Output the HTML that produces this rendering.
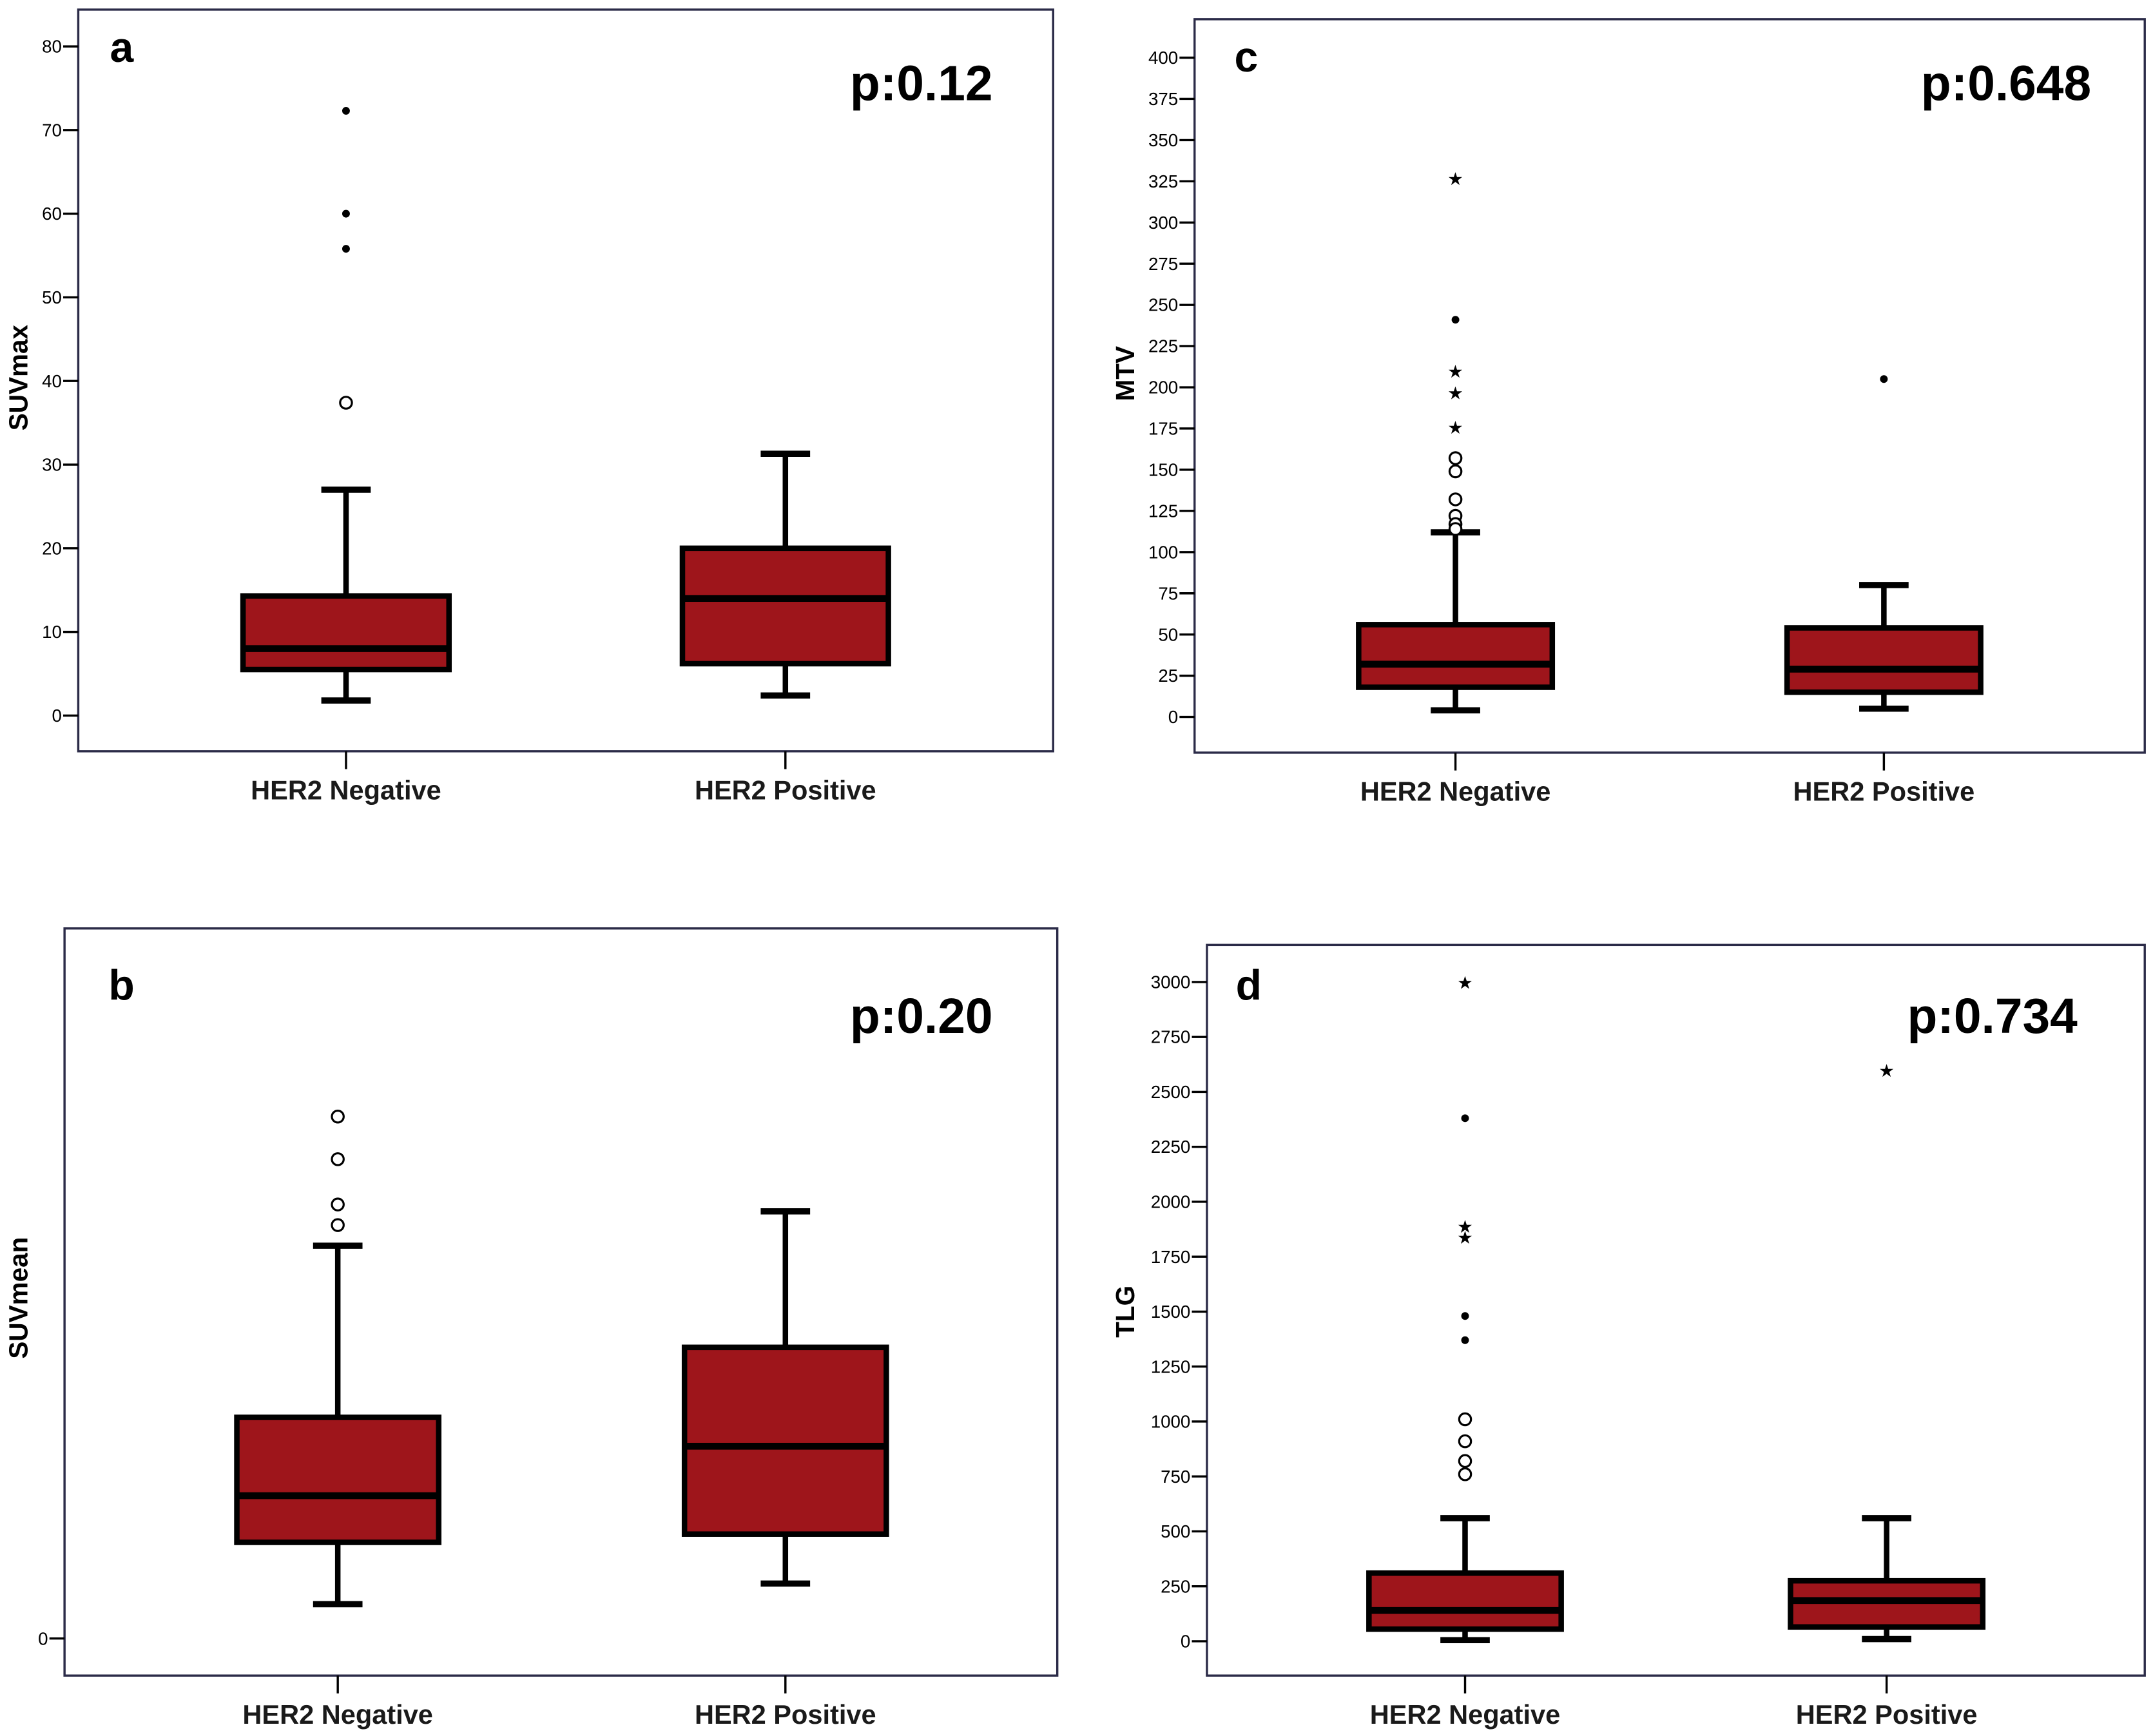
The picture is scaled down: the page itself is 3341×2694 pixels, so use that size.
<!DOCTYPE html>
<html><head><meta charset="utf-8"><title>Boxplots HER2</title>
<style>
html,body{margin:0;padding:0;background:#fff;}
svg{display:block;}
text{font-family:"Liberation Sans",Arial,sans-serif;}
</style></head>
<body>
<svg id="fig" width="3341" height="2694" viewBox="0 0 1568 1264" preserveAspectRatio="none" xmlns="http://www.w3.org/2000/svg">
<rect x="0" y="0" width="1568" height="1264" fill="#fff"/>
</svg>
<script>
// ---------- data ----------
const categories = ["HER2 Negative", "HER2 Positive"];

const aTicks = [0,10,20,30,40,50,60,70,80];
const aNeg = [1.8, 5.5, 8, 14.3, 27];      // whiskerLow, q1, median, q3, whiskerHigh
const aPos = [2.4, 6.2, 14, 20, 31.3];
const aNegDots = [72.3, 60, 55.8];
const aNegCircles = [37.4];
const aPosDots = [];
const aPosCircles = [];
const aNegStars = [];
const aPosStars = [];

const bTicks = [0];
const bNeg = [1.0, 2.8, 4.16, 6.44, 11.44];
const bPos = [1.6, 3.04, 5.6, 8.48, 12.44];
const bNegCircles = [15.2, 13.96, 12.64, 12.04];

const cTicks = [0,25,50,75,100,125,150,175,200,225,250,275,300,325,350,375,400];
const cNeg = [4, 18, 32, 56, 112];
const cPos = [5, 15, 29, 54, 80];
const cNegStars = [327, 210, 197, 176];
const cNegDots = [241];
const cNegCircles = [157, 149, 132, 122, 117, 114];
const cPosDots = [205];

const dTicks = [0,250,500,750,1000,1250,1500,1750,2000,2250,2500,2750,3000];
const dNeg = [5, 55, 140, 310, 560];
const dPos = [10, 65, 185, 275, 560];
const dNegStars = [3000, 1890, 1840];
const dNegDots = [2380, 1480, 1370];
const dNegCircles = [1010, 910, 820, 760];
const dPosStars = [2600];

// ---------- drawing ----------
const NS = "http://www.w3.org/2000/svg";
const svg = document.getElementById('fig');
function mk(tag, attrs, parent){
  const e = document.createElementNS(NS, tag);
  for (const k in attrs) e.setAttribute(k, attrs[k]);
  (parent||svg).appendChild(e);
  return e;
}
function panel(cfg){
  const g = mk('g', {});
  
  
  const y = v => cfg.y0 - (v - 0) * cfg.ppu;
  const fr = mk('rect', {x:cfg.fx, y:cfg.fy, width:cfg.fw, height:cfg.fh, fill:'none', stroke:'#2b2b48', 'stroke-width':1.6}, g);
  
  
  cfg.ticks.forEach(t => {
    const ln = mk('line', {x1:cfg.fx-11, x2:cfg.fx, y1:y(t), y2:y(t), stroke:'#000', 'stroke-width':1.6}, g);
    
    
    const tx = mk('text', {x:cfg.fx-12, y:y(t)+4.5, 'text-anchor':'end', 'font-size':13, fill:'#000'}, g);
    
    
    tx.textContent = String(t);
  });
  const yt = mk('text', {x:0, y:0, transform:`translate(${cfg.ytx},${cfg.yty}) rotate(-90)`, 'text-anchor':'middle', 'font-size':19, 'font-weight':'bold', fill:'#000'}, g);
  
  
  yt.textContent = cfg.ytitle;
  const lt = mk('text', {x:cfg.lx, y:cfg.ly, 'font-size':31, 'font-weight':'bold', fill:'#000'}, g);
  
  
  lt.textContent = cfg.letter;
  const pt = mk('text', {x:cfg.px, y:cfg.py, 'text-anchor':'end', 'font-size':36, 'font-weight':'bold', fill:'#000'}, g);
  
  
  pt.textContent = cfg.p;
  cfg.groups.forEach((gr, i) => {
    const cx = cfg.cx[i];
    const s = gr.stats;
    const hw = cfg.bw/2, cap = 18;
    const bg = mk('g', {}, g);
    
    
    mk('line', {x1:cx, x2:cx, y1:y(s[0]), y2:y(s[1]), stroke:'#000', 'stroke-width':4}, bg);
    mk('line', {x1:cx, x2:cx, y1:y(s[3]), y2:y(s[4]), stroke:'#000', 'stroke-width':4}, bg);
    mk('line', {x1:cx-cap, x2:cx+cap, y1:y(s[0]), y2:y(s[0]), stroke:'#000', 'stroke-width':4.5}, bg);
    mk('line', {x1:cx-cap, x2:cx+cap, y1:y(s[4]), y2:y(s[4]), stroke:'#000', 'stroke-width':4.5}, bg);
    mk('rect', {x:cx-hw, y:y(s[3]), width:cfg.bw, height:y(s[1])-y(s[3]), fill:'#9e151b', stroke:'#000', 'stroke-width':4}, bg);
    mk('line', {x1:cx-hw, x2:cx+hw, y1:y(s[2]), y2:y(s[2]), stroke:'#000', 'stroke-width':5}, bg);
    (gr.dots||[]).forEach(v => {
      const c = mk('circle', {cx:cx, cy:y(v), r:2.8, fill:'#000'}, bg);
      
      
    });
    (gr.circles||[]).forEach(v => {
      const c = mk('circle', {cx:cx, cy:y(v), r:4.3, fill:'#fff', stroke:'#000', 'stroke-width':1.5}, bg);
      
      
    });
    (gr.stars||[]).forEach(v => {
      const st = mk('text', {x:cx, y:y(v)+5, 'text-anchor':'middle', 'font-size':13, fill:'#000'}, bg);
      
      
      st.textContent = '\u2605';
    });
    const xt = mk('line', {x1:cx, x2:cx, y1:cfg.fy+cfg.fh, y2:cfg.fy+cfg.fh+13, stroke:'#000', 'stroke-width':1.6}, g);
    
    
    const xl = mk('text', {x:cx, y:cfg.fy+cfg.fh+35, 'text-anchor':'middle', 'font-size':19.5, 'font-weight':'bold', fill:'#1a1a1a'}, g);
    
    
    xl.textContent = categories[i];
  });
}

panel({letter:'a', p:'p:0.12', fx:57, fy:7, fw:710, fh:540, y0:521, ppu:6.09, ticks:aTicks,
  ytitle:'SUVmax', ytx:20, yty:275, px:723, py:73, cx:[252,572], bw:150, lx:80, ly:45,
  groups:[{stats:aNeg, dots:aNegDots, circles:aNegCircles, stars:aNegStars},
          {stats:aPos, dots:aPosDots, circles:aPosCircles, stars:aPosStars}]});

panel({letter:'b', p:'p:0.20', fx:47, fy:676, fw:723, fh:544, y0:1193, ppu:25, ticks:bTicks,
  ytitle:'SUVmean', ytx:20, yty:945, px:723, py:752, cx:[246,572], bw:147, lx:79, ly:728,
  groups:[{stats:bNeg, circles:bNegCircles}, {stats:bPos}]});

panel({letter:'c', p:'p:0.648', fx:870, fy:14, fw:692, fh:534, y0:522, ppu:1.2, ticks:cTicks,
  ytitle:'MTV', ytx:826, yty:272, px:1523, py:73, cx:[1060,1372], bw:141, lx:899, ly:52,
  groups:[{stats:cNeg, stars:cNegStars, dots:cNegDots, circles:cNegCircles}, {stats:cPos, dots:cPosDots}]});

panel({letter:'d', p:'p:0.734', fx:879, fy:688, fw:683, fh:532, y0:1195, ppu:0.16, ticks:dTicks,
  ytitle:'TLG', ytx:826, yty:955, px:1513, py:752, cx:[1067,1374], bw:140, lx:900, ly:728,
  groups:[{stats:dNeg, stars:dNegStars, dots:dNegDots, circles:dNegCircles}, {stats:dPos, stars:dPosStars}]});
</script>
</body></html>
